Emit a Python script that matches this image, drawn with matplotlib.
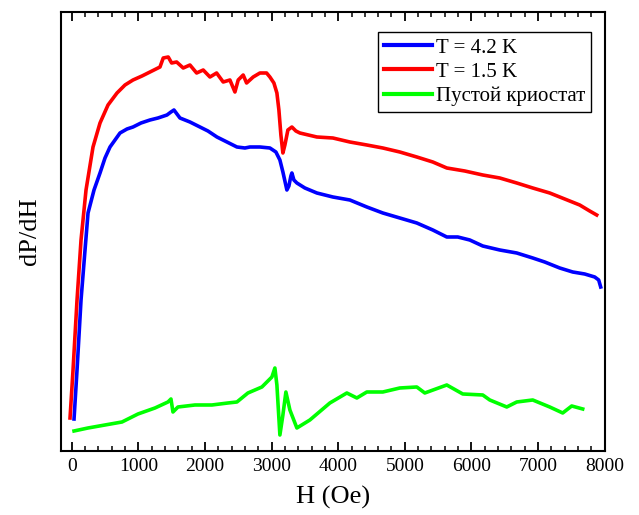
#!/usr/bin/env python3
"""ESR derivative signal dP/dH vs field for two temperatures and empty cryostat."""

import matplotlib
matplotlib.use("Agg")
import matplotlib.pyplot as plt
from matplotlib.ticker import MultipleLocator

plt.rcParams["font.family"] = ["Liberation Serif", "DejaVu Serif"]

# ---------------------------------------------------------------------------
# Data (field in Oe, signal in arbitrary units)
# ---------------------------------------------------------------------------

h_42k = [35, 80, 140, 200, 245, 335, 425, 500, 575, 650, 725, 830, 920, 1040,
         1175, 1295, 1430, 1490, 1535, 1580, 1625, 1775, 1925, 2045, 2180,
         2330, 2480, 2600, 2675, 2825, 2975, 3065, 3125, 3170, 3230, 3260,
         3290, 3305, 3335, 3380, 3500, 3680, 3920, 4175, 4430, 4670, 4925,
         5180, 5420, 5630, 5795, 5975, 6170, 6425, 6680, 6920, 7100, 7325,
         7520, 7700, 7850, 7910, 7940]
y_42k = [32, 81, 151, 201, 238, 261, 278, 293, 304, 311, 318, 322, 324, 328,
         331, 333, 336, 339, 341, 337, 333, 329, 324, 320, 314,
         309, 304, 303, 304, 304, 303, 299, 291, 279, 261, 265,
         275, 278, 271, 268, 263, 258, 254, 251, 244, 238, 233,
         228, 221, 214, 214, 211, 205, 201, 198, 193, 189, 183,
         179, 177, 174, 171, 164]

h_15k = [-25, 20, 80, 140, 215, 320, 425, 545, 680, 800, 920, 1055, 1175,
         1325, 1374, 1449, 1500, 1575, 1674, 1775, 1875, 1974, 2075, 2175,
         2274, 2375, 2450, 2499, 2574, 2625, 2724, 2825, 2925, 2975, 3035,
         3080, 3110, 3140, 3170, 3200, 3245, 3305, 3365, 3425, 3680, 3920,
         4175, 4430, 4670, 4925, 5180, 5420, 5630, 5900, 6170, 6425, 6680,
         6920, 7175, 7400, 7625, 7775, 7880]
y_15k = [33, 81, 151, 211, 261, 304, 328, 346, 358, 366, 371, 375, 379,
         384, 393, 394, 388, 389, 383, 386, 378, 381, 374, 378,
         369, 371, 359, 371, 376, 368, 374, 378, 378, 374, 368,
         358, 341, 316, 298, 306, 321, 324, 320, 318, 314, 313,
         309, 306, 303, 299, 294, 289, 283, 280, 276, 273, 268,
         263, 258, 252, 246, 240, 236]

h_empty = [35, 245, 500, 755, 995, 1250, 1445, 1490, 1520, 1595, 1850, 2105,
           2345, 2480, 2645, 2855, 3005, 3050, 3080, 3125, 3170, 3215, 3275,
           3380, 3575, 3875, 4130, 4280, 4430, 4670, 4925, 5180, 5300, 5630,
           5870, 6170, 6275, 6530, 6680, 6920, 7175, 7370, 7505, 7670]
y_empty = [20, 23, 26, 29, 37, 43, 49, 52, 39, 44, 46, 46,
           48, 49, 58, 64, 74, 83, 66, 16, 36, 59, 41,
           23, 31, 48, 58, 53, 59, 59, 63, 64, 58, 66,
           57, 56, 51, 44, 49, 51, 44, 38, 45, 42]

labels = ["T = 4.2 K", "T = 1.5 K", "Пустой криостат"]
colors = ["#0000ff", "#ff0000", "#00ff00"]


def main() -> None:
    fig = plt.figure(figsize=(6.39, 5.15), dpi=100)
    ax = fig.add_axes([0.095, 0.1243, 0.8513, 0.8524])

    for h, y, lab, c in zip([h_42k, h_15k, h_empty], [y_42k, y_15k, y_empty],
                            labels, colors):
        ax.plot(h, y, color=c, lw=2.6, label=lab, solid_joinstyle="round")

    ax.set_xlim(-165, 8000)
    ax.set_ylim(0, 439)
    ax.xaxis.set_major_locator(MultipleLocator(1000))
    ax.xaxis.set_minor_locator(MultipleLocator(200))
    ax.tick_params(axis="x", which="major", direction="in", length=6.5,
                   width=1.3, top=True, labelsize=14, pad=5)
    ax.tick_params(axis="x", which="minor", direction="in", length=3.5,
                   width=1.1, top=True)
    ax.set_yticks([])
    for s in ax.spines.values():
        s.set_linewidth(1.5)

    ax.set_xlabel("H (Oe)", fontsize=19, labelpad=8)
    ax.set_ylabel("dP/dH", fontsize=19, labelpad=14)

    leg = ax.legend(loc="upper right", bbox_to_anchor=(0.975, 0.954),
                    borderaxespad=0, fontsize=15, fancybox=False,
                    handlelength=2.3, handletextpad=0.2, labelspacing=0.22,
                    borderpad=0.28, framealpha=1)
    leg.get_frame().set_edgecolor("black")
    leg.get_frame().set_linewidth(1.0)
    for line in leg.get_lines():
        line.set_linewidth(3.0)

    fig.savefig("out.png", dpi=100)
    plt.close(fig)


if __name__ == "__main__":
    main()
